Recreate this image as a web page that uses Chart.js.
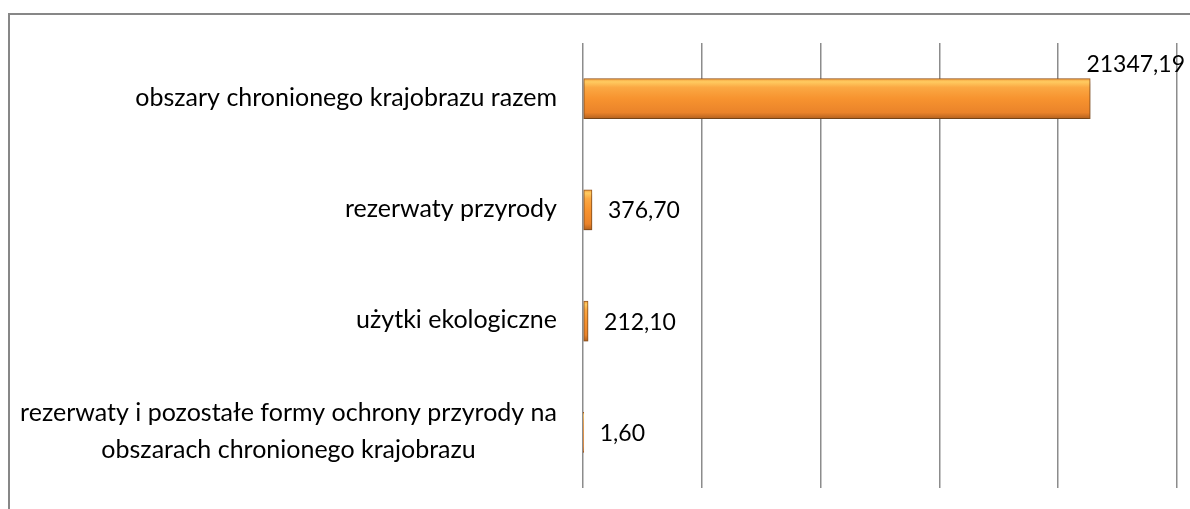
<!DOCTYPE html>
<html><head><meta charset="utf-8">
<script src="https://cdn.jsdelivr.net/npm/chart.js@4"></script>
<style>html,body{margin:0;padding:0;background:#fff;}#wrap{width:1190px;height:509px;position:relative;}</style>
</head><body><div id="wrap"><canvas id="c" width="1190" height="509"></canvas></div>
<script>
const categories = [
  ["obszary chronionego krajobrazu razem"],
  ["rezerwaty przyrody"],
  ["użytki ekologiczne"],
  ["rezerwaty i pozostałe formy ochrony przyrody na", "obszarach chronionego krajobrazu"]
];
const values = [21347.19, 376.70, 212.10, 1.60];
const valueLabels = ["21347,19", "376,70", "212,10", "1,60"];
const axisMin = 0, axisMax = 25000, axisStep = 5000;

const FONT = '25px Lato';
const VFONT = '23px Lato';

function barFill(ctx) {
  const chart = ctx.chart, ys = chart.scales && chart.scales.y;
  if (!ys || !chart.chartArea) return '#f7922e';
  const c = ys.getPixelForValue(ctx.dataIndex);
  const t = c - 20, b = c + 20;
  const g = chart.ctx.createLinearGradient(0, t, 0, b);
  g.addColorStop(0, '#f4a040');
  g.addColorStop(0.08, '#ffcb60');
  g.addColorStop(0.22, '#fba843');
  g.addColorStop(0.5, '#f7932f');
  g.addColorStop(0.85, '#ea832a');
  g.addColorStop(1, '#b5621f');
  return g;
}

const framePlugin = {
  id: 'frame',
  beforeDraw(chart) {
    const ctx = chart.ctx;
    ctx.save();
    ctx.fillStyle = '#fff';
    ctx.fillRect(0, 0, chart.width, chart.height);
    ctx.strokeStyle = '#878787';
    ctx.lineWidth = 2;
    ctx.beginPath();
    ctx.moveTo(9, chart.height);
    ctx.lineTo(9, 14);
    ctx.lineTo(chart.width, 14);
    ctx.stroke();
    ctx.restore();
  }
};

const shadowPlugin = {
  id: 'shadow',
  beforeDatasetsDraw(chart) {
    const ctx = chart.ctx;
    ctx.save();
    ctx.shadowColor = 'rgba(0,0,0,0.30)';
    ctx.shadowBlur = 5;
    ctx.shadowOffsetY = 3;
  },
  afterDatasetsDraw(chart) {
    chart.ctx.restore();
  }
};

const labelPlugin = {
  id: 'labels',
  afterDraw(chart) {
    const ctx = chart.ctx, ys = chart.scales.y, area = chart.chartArea;
    ctx.save();
    ctx.font = FONT;
    ctx.fillStyle = '#000';
    ctx.textBaseline = 'middle';
    // category labels
    ctx.textAlign = 'center';
    const rightEdge = area.left - 26;
    const lh = 37;
    categories.forEach((lines, i) => {
      const w = Math.max(...lines.map(l => ctx.measureText(l).width));
      const cx = rightEdge - w / 2;
      const cy = ys.getPixelForValue(i) - 1;
      lines.forEach((l, j) => ctx.fillText(l, cx, cy + (j - (lines.length - 1) / 2) * lh));
    });
    // value labels
    ctx.font = VFONT;
    ctx.textAlign = 'left';
    const meta = chart.getDatasetMeta(0);
    meta.data.forEach((bar, i) => {
      const txt = valueLabels[i];
      const w = ctx.measureText(txt).width;
      let x = Math.max(bar.x, bar.base) + 16;
      let y = bar.y + 1;
      if (x + w > area.right + 10) {
        x = area.right + 8 - w;
        y = bar.y - bar.height / 2 - 14;
      }
      ctx.fillText(txt, x, y);
    });
    ctx.restore();
  }
};

function draw() {
  new Chart(document.getElementById('c'), {
    type: 'bar',
    data: {
      labels: categories,
      datasets: [{
        data: values,
        backgroundColor: barFill,
        borderColor: '#9a5a20',
        borderWidth: 1,
        borderSkipped: false,
        barThickness: 40
      }]
    },
    options: {
      indexAxis: 'y',
      responsive: false,
      devicePixelRatio: 1,
      animation: false,
      layout: { padding: { left: 583, right: 13, top: 43, bottom: 21 } },
      plugins: { legend: { display: false }, tooltip: { enabled: false } },
      scales: {
        x: {
          min: axisMin, max: axisMax,
          ticks: { display: false, stepSize: axisStep },
          grid: { color: '#8c8c8c', lineWidth: 1.5, drawTicks: false },
          border: { display: false }
        },
        y: {
          display: false,
          offset: true
        }
      }
    },
    plugins: [framePlugin, shadowPlugin, labelPlugin]
  });
}
if (document.fonts && document.fonts.load) {
  Promise.all([document.fonts.load(FONT), document.fonts.load(VFONT)]).then(draw, draw);
} else { draw(); }
</script>
</body></html>
